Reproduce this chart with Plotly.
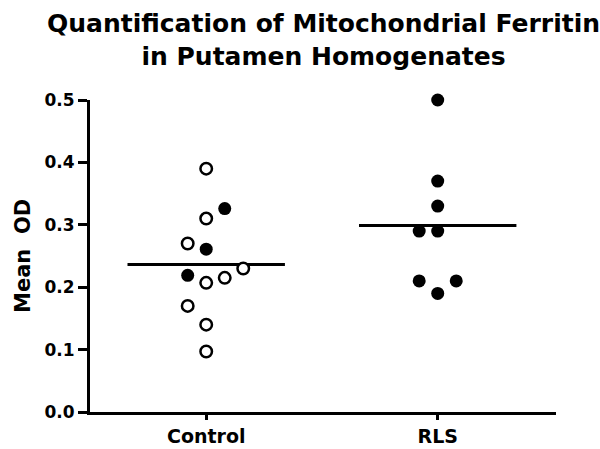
import plotly.graph_objects as go

# ---- data ----
categories = ["Control", "RLS"]
control_open = [0.39, 0.31, 0.27, 0.23, 0.215, 0.207, 0.17, 0.14, 0.097]
control_filled = [0.326, 0.261, 0.219]
rls_filled = [0.50, 0.37, 0.33, 0.29, 0.29, 0.21, 0.21, 0.19]
y_ticks = [0, 0.1, 0.2, 0.3, 0.4, 0.5]

# ---- horizontal scatter offsets (column-scatter layout, in category units) ----
step = 0.08
control_open_off = [0, 0, -1, 2, 1, 0, -1, 0, 0]
control_filled_off = [1, 0, -1]
rls_off = [0, 0, 0, -1, 0, -1, 1, 0]
half_w = 0.34

FONT = "DejaVu Sans"

fig = go.Figure()

control_all = control_open + control_filled
means = [sum(control_all) / len(control_all), sum(rls_filled) / len(rls_filled)]
for i, m in enumerate(means):
    fig.add_trace(go.Scatter(x=[i - half_w, i + half_w], y=[m, m], mode="lines",
                             line=dict(color="black", width=3), showlegend=False,
                             hoverinfo="skip"))

fig.add_trace(go.Scatter(
    x=[0 + o * step for o in control_open_off], y=control_open, mode="markers",
    marker=dict(symbol="circle", size=11.5, color="white", line=dict(color="black", width=2.5)),
    showlegend=False, cliponaxis=False))
fig.add_trace(go.Scatter(
    x=[0 + o * step for o in control_filled_off], y=control_filled, mode="markers",
    marker=dict(symbol="circle", size=13, color="black", line=dict(width=0)),
    showlegend=False, cliponaxis=False))
fig.add_trace(go.Scatter(
    x=[1 + o * step for o in rls_off], y=rls_filled, mode="markers",
    marker=dict(symbol="circle", size=13, color="black", line=dict(width=0)),
    showlegend=False, cliponaxis=False))

fig.update_layout(
    width=600, height=449,
    margin=dict(l=90, r=44, t=100, b=37, autoexpand=False),
    plot_bgcolor="white", paper_bgcolor="white",
    xaxis=dict(range=[-0.502, 1.511], tickvals=[0, 1], ticktext=categories, automargin=False,
               showgrid=False, zeroline=False, showline=True, linecolor="black", linewidth=3,
               ticks="outside", ticklen=5, tickwidth=3, tickcolor="black",
               tickfont=dict(family=FONT, size=19, color="black", weight="bold")),
    yaxis=dict(range=[0, 0.5], tickvals=y_ticks, tickformat=".1f", automargin=False,
               showgrid=False, zeroline=False, showline=True, linecolor="black", linewidth=3,
               ticks="outside", ticklen=9, tickwidth=3, tickcolor="black",
               tickfont=dict(family=FONT, size=17, color="black", weight="bold")),
    annotations=[
        dict(text="Quantification of Mitochondrial Ferritin<br>in Putamen Homogenates",
             xref="paper", yref="paper", x=0.5, y=1.0 + 93 / 311, xanchor="center", yanchor="top",
             showarrow=False, font=dict(family=FONT, size=25, color="black", weight="bold")),
        dict(text="Mean  OD", textangle=-90,
             xref="paper", yref="paper", x=(23 - 90) / 466, y=0.5, xanchor="center", yanchor="middle",
             showarrow=False, font=dict(family=FONT, size=21, color="black", weight="bold")),
    ],
)

fig.write_html("out.html", config={"displayModeBar": False},
               post_script="document.body.style.margin='0';")
